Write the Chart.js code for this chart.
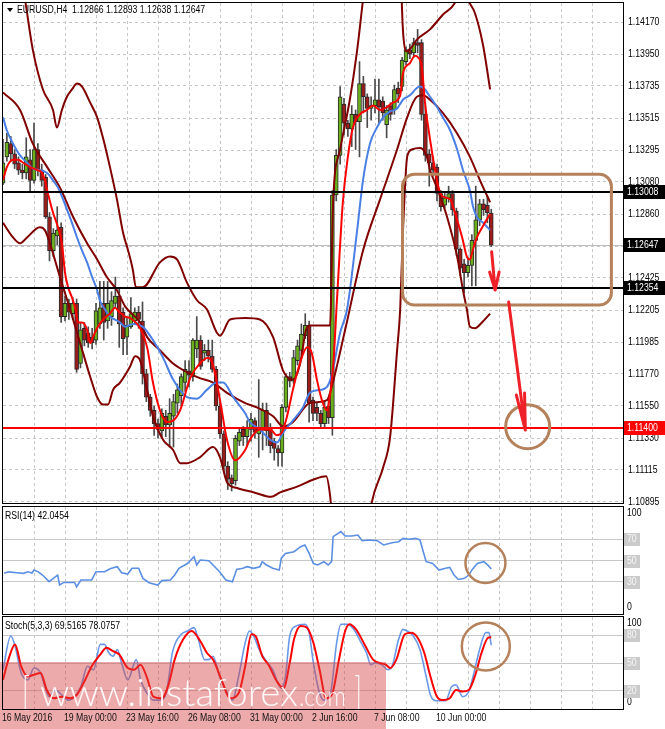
<!DOCTYPE html>
<html>
<head>
<meta charset="utf-8">
<title>EURUSD H4</title>
<script src="https://cdn.jsdelivr.net/npm/chart.js@4.4.0/dist/chart.umd.min.js"></script>
<style>
  html, body { margin: 0; padding: 0; background: #fff; }
  #wrap { position: relative; width: 665px; height: 729px; overflow: hidden; background: #fff; }
  canvas { position: absolute; left: 0; }
</style>
</head>
<body>
<div id="wrap">
  <canvas id="mainChart" width="665" height="506" style="top:0"></canvas>
  <canvas id="rsiChart" width="665" height="110" style="top:505px"></canvas>
  <canvas id="stochChart" width="665" height="115" style="top:614px"></canvas>
</div>
<script>
// ---- data (bar index 0 = 16 May 2016 08:00, H4) ----
const opens = [1.1307,1.1325,1.1334,1.1327,1.1321,1.1316,1.1314,1.1323,1.1309,1.1330,
  1.1316,1.1311,1.1284,1.1261,1.1271,1.1277,1.1216,1.1225,1.1218,1.1225,
  1.1184,1.1208,1.1205,1.1202,1.1200,1.1211,1.1225,1.1213,1.1216,1.1225,
  1.1230,1.1219,1.1202,1.1209,1.1213,1.1219,1.1213,1.1177,1.1161,1.1152,
  1.1143,1.1138,1.1148,1.1142,1.1148,1.1157,1.1162,1.1171,1.1179,1.1175,
  1.1194,1.1200,1.1191,1.1193,1.1189,1.1180,1.1155,1.1136,1.1114,1.1106,
  1.1104,1.1131,1.1139,1.1134,1.1139,1.1145,1.1136,1.1139,1.1152,1.1139,
  1.1131,1.1126,1.1123,1.1154,1.1175,1.1172,1.1186,1.1193,1.1203,1.1210,
  1.1159,1.1154,1.1150,1.1143,1.1155,1.1147,1.1299,1.1326,1.1361,1.1348,
  1.1344,1.1354,1.1349,1.1375,1.1366,1.1358,1.1360,1.1364,1.1363,1.1347,
  1.1360,1.1357,1.1372,1.1373,1.1390,1.1398,1.1396,1.1403,1.1403,1.1354,
  1.1327,1.1321,1.1318,1.1300,1.1292,1.1297,1.1300,1.1288,1.1262,1.1252,
  1.1246,1.1251,1.1268,1.1282,1.1293,1.1292,1.12866];
const highs = [1.1337,1.1341,1.1339,1.1330,1.1325,1.1320,1.1338,1.1330,1.1348,1.1334,
  1.1320,1.1313,1.1287,1.1276,1.1291,1.1280,1.1230,1.1228,1.1229,1.1228,
  1.1212,1.1212,1.1209,1.1208,1.1225,1.1240,1.1240,1.1240,1.1233,1.1243,
  1.1235,1.1222,1.1215,1.1229,1.1222,1.1223,1.1226,1.1180,1.1163,1.1155,
  1.1146,1.1153,1.1152,1.1160,1.1163,1.1170,1.1177,1.1186,1.1186,1.1201,
  1.1216,1.1203,1.1197,1.1200,1.1200,1.1182,1.1158,1.1138,1.1117,1.1108,
  1.1135,1.1140,1.1141,1.1145,1.1150,1.1147,1.1173,1.1157,1.1157,1.1143,
  1.1133,1.1128,1.1156,1.1177,1.1178,1.1193,1.1200,1.1211,1.1218,1.1213,
  1.1161,1.1157,1.1152,1.1158,1.1160,1.1302,1.1330,1.1373,1.1365,1.1350,
  1.1360,1.1357,1.1390,1.1380,1.1368,1.1366,1.1378,1.1378,1.1366,1.1360,
  1.1362,1.1374,1.1376,1.1393,1.1400,1.1402,1.1406,1.1412,1.1405,1.1360,
  1.1330,1.1325,1.1320,1.1302,1.1300,1.1305,1.1302,1.1290,1.1263,1.1255,
  1.1256,1.1272,1.1305,1.1296,1.1296,1.1298,1.12893];
const lows = [1.1306,1.1322,1.1322,1.1317,1.1313,1.1310,1.1310,1.1302,1.1307,1.1312,
  1.1305,1.1283,1.1254,1.1257,1.1265,1.1212,1.1213,1.1214,1.1214,1.1178,
  1.1181,1.1196,1.1195,1.1194,1.1197,1.1208,1.1200,1.1208,1.1210,1.1222,
  1.1195,1.1190,1.1190,1.1208,1.1211,1.1208,1.1170,1.1158,1.1148,1.1135,
  1.1133,1.1134,1.1134,1.1127,1.1127,1.1150,1.1155,1.1165,1.1168,1.1172,
  1.1188,1.1180,1.1186,1.1185,1.1178,1.1152,1.1133,1.1110,1.1098,1.1097,
  1.1101,1.1128,1.1128,1.1128,1.1131,1.1133,1.1120,1.1125,1.1128,1.1123,
  1.1118,1.1114,1.1114,1.1151,1.1168,1.1170,1.1183,1.1190,1.1201,1.1144,
  1.1145,1.1145,1.1140,1.1140,1.1143,1.1135,1.1295,1.1320,1.1340,1.1339,
  1.1332,1.1330,1.1325,1.1355,1.1345,1.1350,1.1355,1.1348,1.1350,1.1338,
  1.1350,1.1354,1.1362,1.1370,1.1388,1.1392,1.1393,1.1396,1.1350,1.1322,
  1.1305,1.1312,1.1295,1.1288,1.1290,1.1294,1.1285,1.1258,1.1244,1.1232,
  1.1243,1.1237,1.1237,1.1278,1.1285,1.1280,1.12638];
const closes = [1.1321,1.1335,1.1327,1.1320,1.1316,1.1314,1.1325,1.1309,1.1330,1.1316,
  1.1309,1.1284,1.1261,1.1273,1.1275,1.1216,1.1225,1.1219,1.1225,1.1180,
  1.1207,1.1200,1.1198,1.1198,1.1220,1.1222,1.1212,1.1225,1.1227,1.1230,
  1.1211,1.1201,1.1210,1.1218,1.1219,1.1214,1.1177,1.1161,1.1152,1.1143,
  1.1139,1.1150,1.1142,1.1150,1.1158,1.1166,1.1175,1.1180,1.1176,1.1200,
  1.1200,1.1182,1.1193,1.1189,1.1180,1.1155,1.1136,1.1114,1.1105,1.1102,
  1.1133,1.1137,1.1134,1.1140,1.1146,1.1137,1.1139,1.1152,1.1138,1.1128,
  1.1126,1.1123,1.1154,1.1175,1.1172,1.1188,1.1196,1.1204,1.1210,1.1157,
  1.1150,1.1150,1.1143,1.1154,1.1147,1.1299,1.1326,1.1366,1.1348,1.1344,
  1.1354,1.1349,1.1375,1.1366,1.1358,1.1360,1.1364,1.1359,1.1355,1.1357,
  1.1354,1.1371,1.1368,1.1391,1.1398,1.1395,1.1403,1.1401,1.1354,1.1326,
  1.1321,1.1316,1.1300,1.1291,1.1297,1.1300,1.1289,1.1262,1.1249,1.1246,
  1.1251,1.1268,1.1282,1.1293,1.1289,1.1287,1.12647];

// indicator lines as [bar, value] pairs
const fastMA = [[0,1.1309],[1,1.1318],[2.6,1.1323],[3.9,1.1323],[5.2,1.1321],[7,1.1318],[8.8,1.1316],[10.1,1.1314],[10.8,1.1309],[11.6,1.1300],
  [12.9,1.1287],[14.2,1.1277],[15.2,1.1266],[16,1.1246],[16.8,1.1236],[17.8,1.1229],[18.6,1.1222],[19.4,1.1212],[20.4,1.1212],[21.7,1.1207],
  [22.5,1.1198],[23.2,1.1202],[24.5,1.1209],[25.8,1.1214],[27.6,1.1218],[28.9,1.1222],[29.7,1.1220],[31.5,1.1216],[32.8,1.1215],[35.4,1.1208],
  [37.2,1.1195],[38.7,1.1171],[40.5,1.1152],[42.3,1.1144],[43.9,1.1145],[45.7,1.1152],[48.3,1.1174],[50.8,1.1184],[52.9,1.1188],[54.2,1.1183],
  [56,1.1159],[57.8,1.1132],[59.9,1.1118],[62.5,1.1125],[63.7,1.1132],[66.3,1.1139],[68.9,1.1139],[70.7,1.1135],[72,1.1137],[73.3,1.1148],
  [74.8,1.1166],[76.6,1.1184],[78.5,1.1195],[79.7,1.1191],[81,1.1173],[82.3,1.1159],[83.6,1.1152],[84.1,1.1157],[85.2,1.1182],[86.2,1.1228],
  [87.7,1.1294],[89,1.1325],[90.3,1.1345],[92.1,1.1354],[93.9,1.1357],[95.5,1.1360],[97.3,1.1357],[99.1,1.1359],[100.6,1.1362],[102.5,1.1367],
  [103.2,1.1382],[105,1.1389],[106.3,1.1394],[107.1,1.1393],[108.1,1.1386],[108.9,1.1362],[110.2,1.1337],[111.5,1.1316],[112.3,1.1305],[113.5,1.1298],
  [115.4,1.1296],[116.6,1.1287],[118.5,1.1270],[119.7,1.1257],[120.5,1.1255],[121.3,1.1262],[122.3,1.1270],[123.9,1.1278],[125.7,1.1286]];
const slowMA = [[0,1.1352],[1,1.1343],[2.6,1.1334],[4.4,1.1326],[6.2,1.1321],[7.7,1.1317],[9.5,1.1316],[11.4,1.1314],[12.9,1.1309],[14.2,1.1304],
  [15.2,1.1298],[16.5,1.1289],[17.8,1.1280],[19.1,1.1270],[20.4,1.1261],[21.7,1.1253],[23,1.1243],[24.3,1.1234],[25,1.1227],[26.3,1.1221],
  [27.6,1.1216],[28.9,1.1214],[30.2,1.1212],[31.5,1.1209],[33.5,1.1211],[36.1,1.1209],[38.7,1.1200],[41.3,1.1188],[43.9,1.1173],[47.5,1.1161],
  [50.1,1.1160],[52.6,1.1166],[55.2,1.1171],[56.8,1.1171],[59.4,1.1161],[62.5,1.1150],[63.7,1.1144],[66.3,1.1139],[68.9,1.1132],[70.7,1.1130],
  [72.3,1.1137],[74.8,1.1145],[77.4,1.1154],[79.2,1.1164],[81.8,1.1166],[83.6,1.1168],[84.9,1.1177],[87,1.1205],[88.8,1.1221],[91.4,1.1275],
  [92.9,1.1309],[94.7,1.1334],[96.5,1.1345],[98.1,1.1352],[99.9,1.1356],[101.7,1.1358],[103.2,1.1364],[105,1.1367],[106.8,1.1372],[107.6,1.1373],
  [108.9,1.1371],[110.2,1.1366],[112,1.1359],[113.5,1.1352],[115.4,1.1343],[117.2,1.1330],[118.7,1.1316],[120.5,1.1302],[121.3,1.1291],[122.3,1.1284],
  [123.9,1.1280],[125.7,1.1275]];
const trendMA = [[0,1.1369],[4.4,1.1357],[7.7,1.1334],[11.4,1.1318],[14.7,1.1304],[18.1,1.1284],[21.7,1.1266],[24.3,1.1255],[26.8,1.1243],[29.4,1.1234],
  [31.5,1.1223],[35.4,1.1212],[37.2,1.1202],[40.5,1.1193],[43.9,1.1184],[47.5,1.1178],[50.8,1.1174],[54.2,1.1171],[57.8,1.1164],[62.5,1.1157],
  [65.5,1.1154],[69.7,1.1148],[72.3,1.1141],[74.8,1.1144],[79.2,1.1157],[83.6,1.1159],[84.4,1.1164],[88.3,1.1207],[92.9,1.1261],[97.3,1.1296],
  [101.7,1.1330],[104.3,1.1352],[106.8,1.1366],[108.4,1.1367],[110.2,1.1364],[113.5,1.1355],[117.2,1.1341],[120.5,1.1325],[123.1,1.1309],[125.7,1.1294]];
const upperBand = [[3.9,1.1459],[5.7,1.1432],[7.7,1.1398],[10.3,1.1371],[12.9,1.1357],[13.9,1.1345],[15.2,1.1357],[16.5,1.1366],[17.8,1.1371],[19.1,1.1375],
  [20.4,1.1373],[22.5,1.1362],[24.3,1.1352],[25.8,1.1338],[27.6,1.1318],[29.4,1.1296],[31,1.1273],[32.3,1.1261],[33.5,1.1248],[34.3,1.1236],
  [36.1,1.1236],[40.5,1.1253],[43.1,1.1257],[44.9,1.1255],[47.5,1.1239],[50.1,1.1227],[52.6,1.1221],[55.2,1.1205],[56,1.1203],[58.6,1.1214],
  [62.5,1.1215],[66.3,1.1214],[69.7,1.1202],[72.3,1.1179],[74.8,1.1173],[76.6,1.1183],[78.2,1.1207],[79.2,1.1210],[84.4,1.1210],[85.2,1.1295],
  [87,1.1330],[89.5,1.1364],[91.4,1.1398],[92.9,1.1432],[93.7,1.1449],[98,null],[102.7,1.1446],[103.2,1.1412],[104,1.1397],[105.5,1.1400],
  [106.8,1.1405],[110.2,1.1412],[113.5,1.1422],[116.6,1.1430],[117.9,1.1439],[118.5,null],[119,1.1439],[120,1.1432],[121.8,1.1423],[123.9,1.1401],
  [125.7,1.1371]];
const lowerBand = [[0,1.1280],[2.6,1.1270],[4.4,1.1266],[6.2,1.1270],[9.5,1.1277],[10.8,1.1275],[12.1,1.1266],[14.7,1.1243],[17.3,1.1221],[19.9,1.1198],
  [22.5,1.1175],[24.3,1.1161],[25.8,1.1156],[27.1,1.1156],[28.4,1.1166],[30.2,1.1171],[32.8,1.1182],[34.1,1.1189],[35.4,1.1186],[37.2,1.1166],
  [38.7,1.1148],[41.3,1.1132],[43.9,1.1125],[45.7,1.1116],[47.5,1.1116],[50.8,1.1120],[54.2,1.1127],[56,1.1120],[57.8,1.1103],[60.4,1.1099],
  [64.8,1.1096],[69.2,1.1093],[71.5,1.1096],[75.9,1.1100],[80.3,1.1105],[83.4,1.1107],[84.4,1.1094],[85.2,1.1070],[90,null],[94.2,1.1070],
  [95,1.1087],[98.1,1.1113],[99.9,1.1134],[101.7,1.1193],[102.5,1.1221],[103.2,1.1273],[104.3,1.1325],[105.5,1.1330],[107.6,1.1331],[109.4,1.1325],
  [110.2,1.1316],[112,1.1304],[114.6,1.1284],[117.2,1.1257],[118.7,1.1234],[119.7,1.1221],[120.5,1.1209],[121.8,1.1208],[123.6,1.1212],[125.7,1.1218]];

const rsiValues = [[0.3,38.0],[1.4,39.4],[3.6,38.6],[5.3,38.0],[6.4,39.4],[7.5,38.3],[8,41.1],[9.1,39.4],[10.2,36.4],[11.9,30.2],
  [13.5,34.8],[14.1,36.4],[14.6,27.1],[15.7,29.5],[18.5,29.5],[19,25.5],[20.1,31.8],[22.9,31.8],[24,39.5],[26.2,39.5],
  [27.8,42.5],[29.5,44.2],[30.6,38.6],[32.2,37.3],[33.3,42.7],[35,42.7],[36.1,33.3],[37.7,29.3],[39.9,27.1],[41,31.2],
  [43.2,31.8],[44.3,36.4],[45.4,42.7],[47.6,47.2],[49.3,53.5],[50,45.8],[50.9,50.5],[53.1,49.8],[54.2,45.8],[55.9,39.5],
  [57.5,31.8],[59.2,30.2],[60.3,41.7],[61.9,42.7],[63,44.2],[64.7,42.7],[66.3,44.2],[66.9,48.9],[68,45.8],[69.6,42.7],
  [71.3,41.1],[71.8,52.0],[72.9,56.6],[75.1,58.2],[76.8,62.9],[77.9,64.5],[79,56.6],[80.1,47.2],[81.2,45.8],[82.8,48.9],
  [83.9,45.8],[84.8,48.9],[85.2,72.3],[87.2,77.0],[88.3,72.9],[90,72.9],[91.6,73.8],[92.7,68.5],[94.4,69.2],[96.6,68.5],
  [98.2,64.5],[100.4,66.6],[102.1,67.6],[103.2,70.7],[104.8,69.8],[106.5,70.7],[107.6,69.2],[109.2,48.9],[110.9,47.2],[112.5,41.1],
  [114.2,42.7],[115.3,43.6],[116.4,36.4],[117.5,32.3],[119.1,33.3],[120.2,36.4],[121.1,41.7],[122.4,47.2],[124.1,48.9],[125.2,45.5],
  [126,42.0454]];
const stochMain = [[0,42.7],[2,79.3],[3.1,68.4],[4.7,39.1],[6.4,31.7],[8,44.5],[9.7,39.1],[10.8,24.4],[11.9,13.4],[13.5,20.7],
  [15.2,15.2],[16.8,9.7],[18.5,13.4],[20.1,24.4],[21.8,46.4],[23.4,42.7],[25.1,70.2],[26.2,70.2],[27.3,61.1],[28.4,57.4],
  [29.5,64.7],[30.6,50.1],[32.2,31.7],[34.4,53.7],[35.5,31.7],[37.2,17.1],[38.8,9.7],[40.5,9.7],[42.1,17.1],[43.8,62.9],
  [46,81.2],[47.6,84.8],[49.3,88.5],[50.4,75.7],[52,53.7],[53.1,53.7],[54.2,57.4],[55.9,35.4],[57.5,20.7],[59.2,9.7],
  [60.8,35.4],[62.5,72.0],[63.6,84.8],[64.7,79.3],[66.3,62.9],[68,51.9],[69.6,42.7],[71.8,22.6],[72.9,35.4],[74,79.3],
  [75.7,90.3],[77.9,92.2],[79,83.0],[80.1,50.1],[81.7,17.1],[82.8,9.7],[84.5,17.1],[86.1,72.0],[87.2,92.2],[88.9,92.2],
  [90.5,86.6],[92.2,73.9],[93.8,61.1],[94.9,48.2],[96,50.1],[97.7,48.2],[99.3,42.7],[100.4,46.4],[102.1,75.7],[103.2,86.6],
  [104.3,84.8],[105.9,79.3],[107.6,64.7],[109.2,35.4],[110.3,15.2],[112,9.0],[114.2,9.0],[115.8,24.4],[116.9,26.2],[118.6,13.4],
  [120.2,19.0],[121.3,35.4],[123,64.7],[124.6,83.0],[125.4,83.0],[126,69.5165]];
const stochSignal = [[0,31.7],[1.4,53.7],[3.1,70.2],[4.7,46.4],[6.4,35.4],[8,37.2],[9.7,39.1],[11.3,20.7],[13,11.6],[15.2,13.4],
  [17.4,11.6],[19,15.2],[21.2,31.7],[22.9,46.4],[25.1,59.2],[26.7,66.5],[28.4,62.9],[30,59.2],[32.2,44.5],[33.9,42.7],
  [35.5,48.2],[37.2,33.6],[38.8,13.4],[41,11.6],[42.7,26.2],[44.3,53.7],[46.5,75.7],[48.7,84.8],[50.9,73.9],[52.6,61.1],
  [54.2,53.7],[56.4,31.7],[58.6,11.6],[60.8,17.1],[62.5,46.4],[64.1,81.2],[65.2,79.3],[66.9,57.4],[68.5,48.2],[70.7,29.9],
  [72.4,22.6],[74,50.1],[75.1,75.7],[76.8,90.3],[78.4,88.5],[80.1,72.0],[81.7,42.7],[83.4,11.6],[85,17.1],[86.7,53.7],
  [88.3,84.8],[89.4,92.2],[91.1,86.6],[93.3,70.2],[95.5,53.7],[97.1,50.1],[98.8,48.2],[99.9,44.5],[101.5,53.7],[103.7,81.2],
  [105.4,83.0],[107,77.5],[108.7,61.1],[110.3,35.4],[112,13.4],[113.6,9.7],[115.3,11.6],[116.9,20.7],[118.6,19.0],[120.2,20.7],
  [121.9,37.2],[123.5,61.1],[125.2,77.5],[126,78.0757]];

const priceTicks = [1.14170,1.13950,1.13735,1.13515,1.13295,1.13080,1.12860,1.12640,1.12425,1.12205,1.11985,1.11770,1.11550,1.11330,1.11115,1.10895];
const timeTicks = [0,16,32,48,64,80,96,112];
const timeLabels = ['16 May 2016','19 May 00:00','23 May 16:00','26 May 08:00','31 May 00:00','2 Jun 16:00','7 Jun 08:00','10 Jun 00:00'];
const blackLevels = [1.13008, 1.12354];
const targetLevel = 1.11400;
const rsiLevels = [30, 50, 70];
const stochLevels = [20, 50, 80];

// annotations drawn on top (bar / price units)
const zoneBox = { fromBar: 103.1, toBar: 157.0, top: 1.13131, bottom: 1.12239 };
const shortArrow = { fromBar: 126.1, fromPrice: 1.12603, toBar: 127.0, toPrice: 1.12341 };
const longArrow = { fromBar: 130.5, fromPrice: 1.12259, toBar: 134.8, toPrice: 1.11386 };
const targetCircle = { bar: 135.4, price: 1.11409 };
const rsiCircle = { bar: 124.5, value: 47.7 };
const stochCircle = { bar: 124.6, value: 68 };

// ---- styling ----
const FAMILY = '"Liberation Sans", Arial, sans-serif';
const SQUEEZE = 0.87;
const GRID = '#c6c6c6';
const BROWN = '#b5815b';
const BULL = '#69b01c';
const BEAR = '#9c1b1b';
const MAROON = '#800000';
const gridSteps = [];
for (let b = 0; b <= 152; b += 8) gridSteps.push(b);

const pts = arr => arr.map(([x, y]) => ({ x, y }));

// terminal-style condensed text
function narrowText(ctx, text, x, y, color) {
  ctx.save();
  ctx.font = '10px ' + FAMILY;
  ctx.textBaseline = 'middle';
  ctx.textAlign = 'left';
  ctx.fillStyle = color || '#000';
  ctx.translate(x, y);
  ctx.scale(SQUEEZE, 1);
  ctx.fillText(text, 0, 0);
  ctx.restore();
}

function xAxis(showLabels) {
  return {
    type: 'linear', min: 0, max: 160, offset: false,
    afterBuildTicks: s => { s.ticks = gridSteps.map(v => ({ value: v })); },
    afterFit: s => { s.height = showLabels ? 20 : 0; s.paddingLeft = 0; s.paddingRight = 0; },
    grid: { color: c => (c.tick && c.tick.value === 0 ? 'rgba(0,0,0,0)' : GRID), drawTicks: false, offset: false },
    border: { display: false, dash: [3, 3] },
    ticks: { display: false }
  };
}

function frame(chart) {
  const { ctx, chartArea: a } = chart;
  ctx.save();
  ctx.strokeStyle = '#000';
  ctx.lineWidth = 1;
  ctx.strokeRect(Math.round(a.left) - 0.5, Math.round(a.top) - 0.5, Math.round(a.right - a.left) + 1, Math.round(a.bottom - a.top) + 1);
  ctx.restore();
}

function priceBox(ctx, y, text, fill) {
  ctx.fillStyle = fill;
  ctx.fillRect(624, Math.round(y) - 7, 41, 14);
  narrowText(ctx, text, 627, Math.round(y) + 0.5, '#fff');
}

function arrow(ctx, x, y, a, heads) {
  const x0 = x.getPixelForValue(a.fromBar), y0 = y.getPixelForValue(a.fromPrice);
  const x1 = x.getPixelForValue(a.toBar), y1 = y.getPixelForValue(a.toPrice);
  ctx.beginPath();
  ctx.moveTo(x0, y0); ctx.lineTo(x1, y1);
  heads.forEach(h => { ctx.moveTo(x1 + h[0], y1 + h[1]); ctx.lineTo(x1, y1); });
  ctx.stroke();
}

// ---- main price panel ----
const mainOverlay = {
  id: 'mainOverlay',
  beforeDatasetsDraw(chart) {
    const { ctx, chartArea: a, scales: { y } } = chart;
    const py = Math.round(y.getPixelForValue(closes[closes.length - 1])) + 0.5;
    ctx.save();
    ctx.strokeStyle = '#bdbdbd';
    ctx.lineWidth = 1;
    ctx.beginPath(); ctx.moveTo(a.left, py); ctx.lineTo(a.right, py); ctx.stroke();
    ctx.restore();
  },
  afterDatasetsDraw(chart) {
    const { ctx, chartArea: a, scales: { x, y } } = chart;
    ctx.save();
    ctx.beginPath(); ctx.rect(a.left, a.top, a.right - a.left, a.bottom - a.top); ctx.clip();

    ctx.lineWidth = 2;
    ctx.strokeStyle = '#000';
    blackLevels.forEach(v => {
      const py = Math.round(y.getPixelForValue(v));
      ctx.beginPath(); ctx.moveTo(a.left, py); ctx.lineTo(a.right, py); ctx.stroke();
    });
    ctx.strokeStyle = '#ff0000';
    const ry = Math.round(y.getPixelForValue(targetLevel));
    ctx.beginPath(); ctx.moveTo(a.left, ry); ctx.lineTo(a.right, ry); ctx.stroke();

    // sell zone
    ctx.strokeStyle = BROWN;
    ctx.lineWidth = 3;
    const bx0 = x.getPixelForValue(zoneBox.fromBar), bx1 = x.getPixelForValue(zoneBox.toBar);
    const by0 = y.getPixelForValue(zoneBox.top), by1 = y.getPixelForValue(zoneBox.bottom);
    ctx.beginPath(); ctx.roundRect(bx0, by0, bx1 - bx0, by1 - by0, 12); ctx.stroke();

    ctx.beginPath();
    ctx.arc(x.getPixelForValue(targetCircle.bar), y.getPixelForValue(targetCircle.price), 22, 0, Math.PI * 2);
    ctx.stroke();

    // arrows
    ctx.strokeStyle = '#ee2028';
    ctx.lineWidth = 3;
    ctx.lineCap = 'round';
    arrow(ctx, x, y, shortArrow, [[-5.5, -18], [4, -18]]);
    arrow(ctx, x, y, longArrow, [[-9, -35], [-0.8, -37]]);
    ctx.restore();
  },
  afterDraw(chart) {
    const { ctx, scales: { y } } = chart;
    frame(chart);
    ctx.save();
    priceTicks.forEach(v => narrowText(ctx, v.toFixed(5), 628, Math.round(y.getPixelForValue(v)) + 0.5));
    priceBox(ctx, y.getPixelForValue(blackLevels[0]), blackLevels[0].toFixed(5), '#000');
    priceBox(ctx, y.getPixelForValue(closes[closes.length - 1]), closes[closes.length - 1].toFixed(5), '#000');
    priceBox(ctx, y.getPixelForValue(blackLevels[1]), blackLevels[1].toFixed(5), '#000');
    priceBox(ctx, y.getPixelForValue(targetLevel), targetLevel.toFixed(5), '#ff0000');

    // header
    const n = closes.length - 1;
    ctx.fillStyle = '#000';
    ctx.beginPath(); ctx.moveTo(7, 8); ctx.lineTo(13, 8); ctx.lineTo(10, 12); ctx.closePath(); ctx.fill();
    narrowText(ctx, 'EURUSD,H4  ' + [opens[n], highs[n], lows[n], closes[n]].map(v => v.toFixed(5)).join(' '), 17, 10.5);
    ctx.restore();
  }
};

const barIdx = opens.map((_, i) => i);

new Chart(document.getElementById('mainChart'), {
  type: 'bar',
  data: {
    datasets: [
      { type: 'line', label: 'fast', data: pts(fastMA), borderColor: '#ff0000', borderWidth: 2, pointRadius: 0, cubicInterpolationMode: 'monotone', order: 1 },
      { type: 'line', label: 'slow', data: pts(slowMA), borderColor: '#4a7fe6', borderWidth: 2, pointRadius: 0, cubicInterpolationMode: 'monotone', order: 2 },
      { type: 'line', label: 'trend', data: pts(trendMA), borderColor: MAROON, borderWidth: 2, pointRadius: 0, cubicInterpolationMode: 'monotone', order: 3 },
      { type: 'line', label: 'upper', data: pts(upperBand), borderColor: MAROON, borderWidth: 2, pointRadius: 0, cubicInterpolationMode: 'monotone', spanGaps: false, order: 4 },
      { type: 'line', label: 'lower', data: pts(lowerBand), borderColor: MAROON, borderWidth: 2, pointRadius: 0, cubicInterpolationMode: 'monotone', spanGaps: false, order: 4 },
      {
        label: 'body', data: barIdx.map(i => ({ x: i, y: [opens[i], closes[i]] })),
        backgroundColor: c => (closes[c.dataIndex] >= opens[c.dataIndex] ? BULL : BEAR),
        borderColor: '#2a2a2a', borderWidth: 1, borderSkipped: false, barThickness: 4, grouped: false, order: 5
      },
      {
        label: 'wick', data: barIdx.map(i => ({ x: i, y: [lows[i], highs[i]] })),
        backgroundColor: '#4a4a4a', borderWidth: 0, barThickness: 1, grouped: false, order: 6
      }
    ]
  },
  options: {
    responsive: false, animation: false, events: [],
    layout: { padding: { left: 3, right: 0, top: 3, bottom: 3 } },
    plugins: { legend: { display: false }, tooltip: { enabled: false } },
    scales: {
      x: xAxis(false),
      y: {
        position: 'right', min: 1.10888, max: 1.14300, beginAtZero: false,
        afterBuildTicks: s => { s.ticks = priceTicks.map(v => ({ value: v })); },
        afterFit: s => { s.width = 42; s.paddingTop = 0; s.paddingBottom = 0; },
        grid: { color: GRID, drawTicks: false },
        border: { display: false, dash: [3, 3] },
        ticks: { display: false }
      }
    }
  },
  plugins: [mainOverlay]
});

// ---- oscillator panels ----
function sideLabels(chart, levels, top, bottom) {
  const { ctx, scales: { y } } = chart;
  const a = chart.chartArea;
  ctx.save();
  narrowText(ctx, top, 627, a.top + 6.5);
  narrowText(ctx, bottom, 627, a.bottom - 6.5);
  levels.forEach(v => {
    const py = Math.round(y.getPixelForValue(v));
    ctx.fillStyle = '#cbcbcb';
    ctx.fillRect(624, py - 6, 16, 13);
    narrowText(ctx, String(v), 627, py + 0.5, '#f6f6f6');
  });
  ctx.restore();
}

function header(chart, text) {
  narrowText(chart.ctx, text, 5, chart.chartArea.top + 9.5);
}

function ring(chart, c, r) {
  const { ctx, scales: { x, y } } = chart;
  ctx.save();
  ctx.strokeStyle = BROWN;
  ctx.lineWidth = 2.5;
  ctx.beginPath();
  ctx.arc(x.getPixelForValue(c.bar), y.getPixelForValue(c.value), r, 0, Math.PI * 2);
  ctx.stroke();
  ctx.restore();
}

function oscY(levels) {
  return {
    position: 'right', min: 0, max: 100,
    afterBuildTicks: s => { s.ticks = levels.map(v => ({ value: v })); },
    afterFit: s => { s.width = 42; s.paddingTop = 0; s.paddingBottom = 0; },
    grid: { color: '#c8c8c8', drawTicks: false, lineWidth: 1 },
    border: { display: false },
    ticks: { display: false }
  };
}

new Chart(document.getElementById('rsiChart'), {
  type: 'line',
  data: {
    datasets: [
      { data: pts(rsiValues), borderColor: '#5b8fe3', borderWidth: 1.6, pointRadius: 0, tension: 0 }
    ]
  },
  options: {
    responsive: false, animation: false, events: [],
    layout: { padding: { left: 3, right: 0, top: 2, bottom: 1 } },
    plugins: { legend: { display: false }, tooltip: { enabled: false } },
    scales: { x: xAxis(false), y: oscY(rsiLevels) }
  },
  plugins: [{
    id: 'rsiOverlay',
    afterDatasetsDraw(chart) { ring(chart, rsiCircle, 20); },
    afterDraw(chart) {
      frame(chart);
      sideLabels(chart, rsiLevels, '100', '0');
      header(chart, 'RSI(14) ' + rsiValues[rsiValues.length - 1][1].toFixed(4));
    }
  }]
});

function fitText(ctx, text, x, y, width, font) {
  ctx.font = font;
  const w = ctx.measureText(text).width;
  ctx.save();
  ctx.translate(x, y);
  ctx.scale(width / w, 1);
  ctx.fillText(text, 0, 0);
  ctx.restore();
}

new Chart(document.getElementById('stochChart'), {
  type: 'line',
  data: {
    datasets: [
      { data: pts(stochSignal), borderColor: '#ff0000', borderWidth: 2, pointRadius: 0, cubicInterpolationMode: 'monotone' },
      { data: pts(stochMain), borderColor: '#6a98e8', borderWidth: 1.6, pointRadius: 0, cubicInterpolationMode: 'monotone' }
    ]
  },
  options: {
    responsive: false, animation: false, events: [],
    layout: { padding: { left: 3, right: 0, top: 3, bottom: 0 } },
    plugins: { legend: { display: false }, tooltip: { enabled: false } },
    scales: { x: xAxis(true), y: oscY(stochLevels) }
  },
  plugins: [{
    id: 'stochOverlay',
    afterDatasetsDraw(chart) {
      const { ctx } = chart;
      ring(chart, stochCircle, 24);
      // site watermark
      ctx.save();
      ctx.fillStyle = 'rgba(214,66,66,0.45)';
      ctx.fillRect(0, 48, 386, 67);
      ctx.fillStyle = 'rgba(255,255,255,0.92)';
      ctx.textBaseline = 'alphabetic';
      ctx.textAlign = 'left';
      fitText(ctx, '[', 22, 91, 8, '300 40px Lato, "Liberation Sans", sans-serif');
      fitText(ctx, 'www.instaforex', 40, 92, 258, '300 38px Lato, "Liberation Sans", sans-serif');
      fitText(ctx, '.com', 299, 92, 47, '300 27px Lato, "Liberation Sans", sans-serif');
      fitText(ctx, ']', 354, 91, 8, '300 40px Lato, "Liberation Sans", sans-serif');
      ctx.restore();
    },
    afterDraw(chart) {
      const { scales: { x }, chartArea: a, ctx } = chart;
      frame(chart);
      timeTicks.forEach((t, k) => narrowText(ctx, timeLabels[k], Math.round(x.getPixelForValue(t)) - 1, a.bottom + 9.5, '#111'));
      sideLabels(chart, stochLevels, '100', '0');
      header(chart, 'Stoch(5,3,3) ' + stochMain[stochMain.length - 1][1].toFixed(4) + ' ' + stochSignal[stochSignal.length - 1][1].toFixed(4));
    }
  }]
});
</script>
</body>
</html>
